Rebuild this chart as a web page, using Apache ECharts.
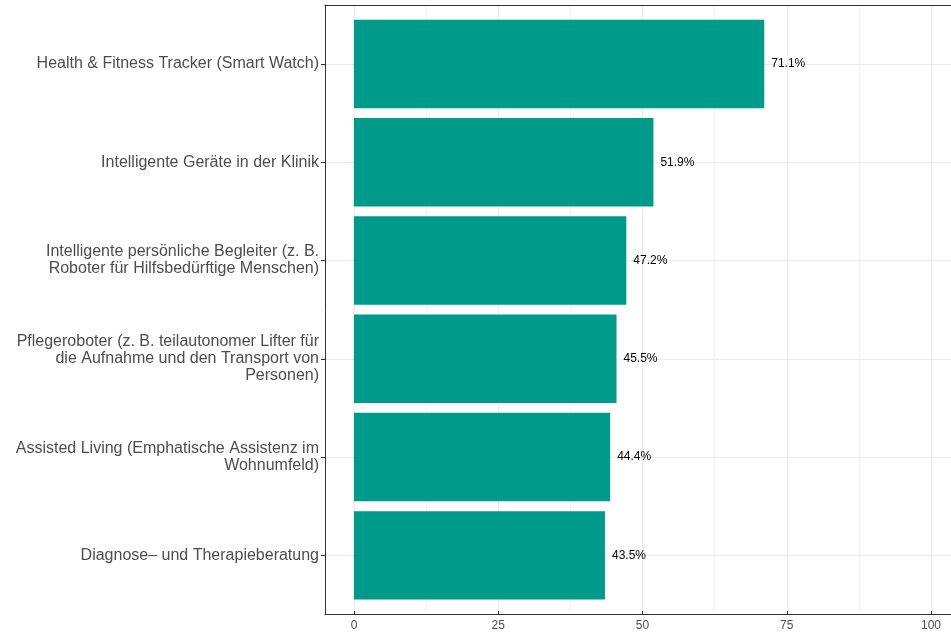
<!DOCTYPE html>
<html>
<head>
<meta charset="utf-8">
<script src="https://cdn.jsdelivr.net/npm/echarts@6/dist/echarts.min.js"></script>
<style>
  html, body { margin: 0; padding: 0; background: #fff; }
  #chart { width: 951px; height: 632px; }
</style>
</head>
<body>
<div id="chart"></div>
<script>
// Daten (von oben nach unten)
const categories = [
  'Health & Fitness Tracker (Smart Watch)',
  'Intelligente Geräte in der Klinik',
  'Intelligente persönliche Begleiter (z. B.\nRoboter für Hilfsbedürftige Menschen)',
  'Pflegeroboter (z. B. teilautonomer Lifter für\ndie Aufnahme und den Transport von\nPersonen)',
  'Assisted Living (Emphatische Assistenz im\nWohnumfeld)',
  'Diagnose\u2013 und Therapieberatung'
];
const values = [71.1, 51.9, 47.2, 45.5, 44.4, 43.5];
const xTicks = [0, 25, 50, 75, 100];

const font = '"Liberation Sans", Arial, Helvetica, sans-serif';
const barColor = '#009a8a';
const frameLine = { show: true, onZero: false, lineStyle: { color: '#333333', width: 1 } };

let chart = echarts.init(document.getElementById('chart'));

chart.setOption({
  animation: false,
  grid: [
    // 0: x-Gitter und Achsenbeschriftung (0..100)
    { left: 354, right: 20, top: 5, bottom: 18 },
    // 1: Rahmen des Panels (rechter Rand liegt ausserhalb des Bildes)
    { left: 325, right: 0, top: 5, bottom: 18 },
    // 2: Balken
    { left: 325, right: 0, top: 14.8, bottom: 27.5 }
  ],
  xAxis: [
    {
      gridIndex: 0, type: 'value', min: xTicks[0], max: xTicks[xTicks.length - 1], interval: 25,
      axisLine: { show: false },
      axisTick: { show: true, length: 4, lineStyle: { color: '#333333' } },
      axisLabel: { margin: 9, color: '#4d4d4d', fontSize: 12, fontFamily: font },
      splitLine: { show: true, lineStyle: { color: '#ebebeb', width: 1 } },
      minorTick: { show: false, splitNumber: 2 },
      minorSplitLine: { show: true, lineStyle: { color: '#f3f3f3', width: 1 } }
    },
    {
      gridIndex: 1, type: 'value', min: 0, max: 1, position: 'bottom', z: 10,
      axisLine: frameLine, axisTick: { show: false }, axisLabel: { show: false }, splitLine: { show: false }
    },
    {
      gridIndex: 1, type: 'value', min: 0, max: 1, position: 'top', z: 10,
      axisLine: frameLine, axisTick: { show: false }, axisLabel: { show: false }, splitLine: { show: false }
    },
    { gridIndex: 2, type: 'value', show: false, min: -5, max: 103.45 }
  ],
  yAxis: [
    { gridIndex: 0, type: 'value', show: false },
    {
      gridIndex: 1, type: 'value', min: 0, max: 1, position: 'left', z: 10,
      axisLine: frameLine, axisTick: { show: false }, axisLabel: { show: false }, splitLine: { show: false }
    },
    {
      gridIndex: 2, type: 'category', data: categories, inverse: true,
      axisLine: { show: false, onZero: false },
      axisTick: { show: true, alignWithLabel: true, length: 4, lineStyle: { color: '#333333' } },
      axisLabel: { margin: 6, color: '#4d4d4d', fontSize: 16, lineHeight: 17, fontFamily: font, align: 'right' },
      splitLine: { show: true, alignWithLabel: true, lineStyle: { color: '#ebebeb', width: 1 } }
    }
  ],
  series: [{
    type: 'bar',
    xAxisIndex: 3,
    yAxisIndex: 2,
    data: values,
    barWidth: '90%',
    itemStyle: { color: barColor },
    label: {
      show: true, position: 'right', distance: 7,
      formatter: p => p.value + '%',
      color: '#000', fontSize: 12, fontFamily: font
    }
  }]
});
</script>
</body>
</html>
